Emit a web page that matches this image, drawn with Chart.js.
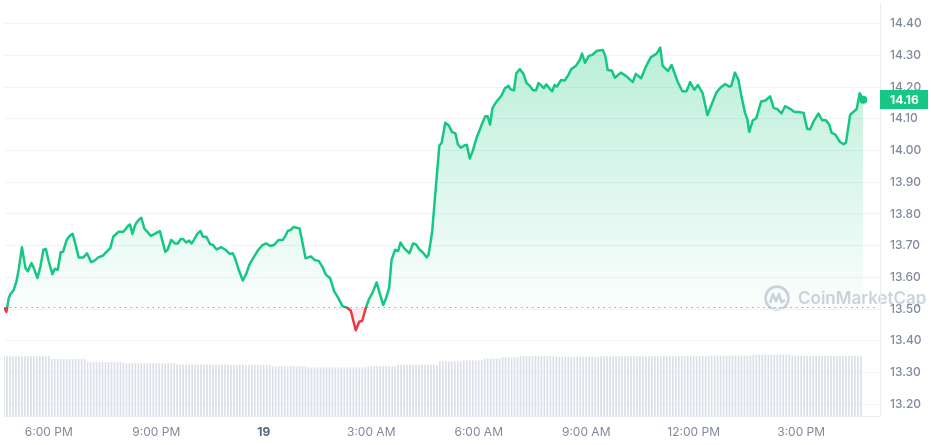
<!DOCTYPE html>
<html>
<head>
<meta charset="utf-8">
<script src="https://cdn.jsdelivr.net/npm/chart.js@4.4.1/dist/chart.umd.min.js"></script>
<style>
  html, body { margin: 0; padding: 0; background: #ffffff; }
  #wrap { width: 931px; height: 445px; }
</style>
</head>
<body>
<div id="wrap"><canvas id="priceChart" width="931" height="445"></canvas></div>
<script>
// minutes since the first point (4:45 PM) and the price at that minute
const minutesFromStart = [
  0, 4, 8, 11, 16, 21, 25, 30, 36, 40, 46, 50, 56, 61, 66, 70, 75, 81, 85, 90,
  95, 99, 105, 110, 115, 120, 125, 133, 139, 146, 151, 158, 166, 172, 178, 183, 192, 200, 208, 211,
  215, 220, 225, 230, 235, 240, 246, 253, 261, 270, 274, 280, 286, 291, 296, 300, 305, 310, 314, 318,
  324, 329, 333, 339, 345, 350, 356, 364, 371, 378, 383, 387, 393, 400, 406, 411, 418, 426, 433, 439,
  446, 452, 460, 467, 472, 475, 481, 485, 495, 499, 505, 514, 520, 527, 533, 539, 546, 553, 558, 567,
  575, 581, 585, 589, 595, 600, 606, 611, 617, 624, 629, 635, 639, 645, 649, 655, 660, 664, 670, 679,
  685, 690, 696, 701, 708, 711, 717, 722, 729, 733, 739, 745, 750, 756, 760, 765, 772, 775, 780, 785,
  791, 796, 800, 806, 810, 814, 818, 825, 833, 839, 845, 848, 854, 858, 864, 870, 875, 880, 886, 891,
  895, 900, 904, 908, 914, 918, 922, 926, 933, 939, 945, 950, 958, 964, 968, 973, 979, 986, 993, 1003,
  1007, 1011, 1018, 1023, 1033, 1042, 1053, 1058, 1067, 1075, 1083, 1093, 1099, 1103, 1112, 1118, 1128, 1136, 1143, 1149,
  1156, 1162, 1170, 1178, 1186, 1193, 1200, 1208, 1214, 1218, 1224, 1230, 1235, 1241, 1245, 1248, 1254, 1260, 1264, 1268,
  1275, 1283, 1289, 1295, 1302, 1308, 1317, 1324, 1331, 1339, 1345, 1350, 1356, 1364, 1370, 1376, 1382, 1386, 1392, 1400,
  1406, 1410, 1417, 1428, 1433, 1439
];

const prices = [
  13.505, 13.491, 13.535, 13.548, 13.559, 13.588, 13.629, 13.695, 13.629, 13.619, 13.645, 13.629, 13.598, 13.634, 13.687, 13.690, 13.650, 13.610, 13.627, 13.624,
  13.679, 13.681, 13.718, 13.731, 13.737, 13.702, 13.663, 13.663, 13.676, 13.648, 13.652, 13.663, 13.669, 13.681, 13.692, 13.728, 13.744, 13.744, 13.763, 13.767,
  13.737, 13.767, 13.780, 13.788, 13.754, 13.744, 13.731, 13.738, 13.746, 13.681, 13.687, 13.718, 13.707, 13.707, 13.721, 13.721, 13.710, 13.716, 13.707, 13.718,
  13.738, 13.746, 13.728, 13.728, 13.705, 13.702, 13.688, 13.695, 13.687, 13.674, 13.676, 13.660, 13.624, 13.590, 13.613, 13.640, 13.663, 13.687, 13.702, 13.707,
  13.699, 13.702, 13.718, 13.718, 13.733, 13.746, 13.751, 13.759, 13.754, 13.718, 13.660, 13.666, 13.655, 13.652, 13.634, 13.608, 13.598, 13.556, 13.541, 13.509,
  13.504, 13.494, 13.463, 13.433, 13.460, 13.463, 13.504, 13.530, 13.551, 13.584, 13.551, 13.513, 13.530, 13.567, 13.655, 13.687, 13.683, 13.710, 13.692, 13.676,
  13.707, 13.704, 13.687, 13.679, 13.663, 13.671, 13.744, 13.858, 14.015, 14.025, 14.088, 14.079, 14.059, 14.054, 14.020, 14.009, 14.017, 14.018, 13.975, 13.999,
  14.038, 14.062, 14.082, 14.108, 14.108, 14.082, 14.134, 14.155, 14.173, 14.197, 14.204, 14.194, 14.190, 14.244, 14.257, 14.242, 14.213, 14.205, 14.190, 14.190,
  14.213, 14.205, 14.197, 14.209, 14.195, 14.187, 14.207, 14.202, 14.223, 14.221, 14.238, 14.257, 14.268, 14.285, 14.306, 14.277, 14.298, 14.303, 14.315, 14.317,
  14.298, 14.254, 14.252, 14.230, 14.246, 14.235, 14.216, 14.242, 14.228, 14.265, 14.294, 14.306, 14.325, 14.267, 14.251, 14.270, 14.218, 14.187, 14.187, 14.216,
  14.192, 14.207, 14.181, 14.112, 14.150, 14.183, 14.199, 14.210, 14.202, 14.204, 14.246, 14.223, 14.171, 14.119, 14.098, 14.059, 14.095, 14.103, 14.129, 14.155,
  14.158, 14.171, 14.134, 14.131, 14.117, 14.140, 14.131, 14.122, 14.122, 14.119, 14.069, 14.067, 14.093, 14.117, 14.096, 14.096, 14.082, 14.056, 14.051, 14.027,
  14.020, 14.025, 14.113, 14.131, 14.181, 14.160
];

// price 24h earlier, drawn as the dotted reference line
const openPrice = 13.505;

// volume bars, one every 5 minutes (millions)
const volumeStepMinutes = 5;
const volumes = [
  101, 101, 101, 101, 101, 101, 101, 101, 101, 101, 101, 101, 101, 101, 101, 101,
  96, 96, 96, 96, 96, 96, 96, 96, 96, 96, 96, 96,
  91, 91, 91, 91, 91, 91, 91, 91, 91, 91, 91, 91,
  89, 89, 89, 89, 89, 89, 89, 89, 89, 89, 89, 89, 89, 89, 89, 89, 89, 89,
  87, 87, 87, 87, 87, 87, 87, 87, 87, 87, 87, 87, 87, 87, 87, 87, 87, 87,
  86, 86, 86, 86, 86, 86, 86, 86, 86, 86, 86, 86, 86, 86,
  84, 84, 84, 84, 84, 84, 84, 84, 84, 84, 84, 84,
  82, 82, 82, 82, 82, 82, 82, 82, 82, 82, 82, 82, 82, 82, 82, 82, 82, 82, 82, 82,
  84, 84, 84, 84, 84, 84, 84, 84, 84, 84,
  86, 86, 86, 86, 86, 86, 86, 86, 86, 86, 86, 86, 86, 86,
  92, 92, 92, 92, 92, 92, 92, 92,
  94, 94, 94, 94, 94, 94, 94,
  97, 97, 97, 97, 97, 97,
  99, 99, 99, 99, 99, 99,
  101, 101, 101, 101, 101, 101, 101, 101, 101, 101, 101, 101,
  100, 100, 100, 100, 100, 100, 100, 100, 100, 100, 100, 100, 100, 100, 100,
  101, 101, 101, 101, 101, 101, 101, 101, 101, 101, 101, 101, 101, 101, 101, 101, 101, 101,
  101, 101, 101, 101, 101, 101, 101, 101, 101, 101, 101, 101, 101, 101, 101, 101, 101, 101,
  102, 102, 102, 102, 102, 102, 102, 102, 102, 102, 102, 102, 102, 102, 102,
  104, 104, 104, 104, 104, 104, 104, 104, 104, 104, 104, 104, 104,
  102, 102, 102, 102, 102, 102, 102, 102, 102, 102, 102, 102, 102, 102, 102, 102, 102, 102, 102, 102, 102, 102, 102, 102
];

const xTickMinutes = [75, 255, 435, 615, 795, 975, 1155, 1335];
const xTickLabels = ['6:00 PM', '9:00 PM', '19', '3:00 AM', '6:00 AM', '9:00 AM', '12:00 PM', '3:00 PM'];
const yTicks = [13.2, 13.3, 13.4, 13.5, 13.6, 13.7, 13.8, 13.9, 14.0, 14.1, 14.2, 14.3, 14.4];

const colors = {
  up: '#16c784',
  down: '#ea3943',
  text: '#808a9d',
  textStrong: '#58667e',
  grid: '#f1f3f7',
  border: '#e8ebf0',
  volume: '#dadfe8',
  dots: '#a1a9b8',
  watermark: 'rgba(196, 203, 216, 0.85)'
};

Chart.defaults.font.family = 'Inter, "Noto Sans", sans-serif';

function lineStroke(chart) {
  const { ctx, chartArea, scales } = chart;
  if (!chartArea || !scales.y) return colors.up;
  const yBase = scales.y.getPixelForValue(openPrice);
  const f = Math.min(1, Math.max(0, (yBase - chartArea.top) / (chartArea.bottom - chartArea.top)));
  const g = ctx.createLinearGradient(0, chartArea.top, 0, chartArea.bottom);
  g.addColorStop(0, colors.up);
  g.addColorStop(f, colors.up);
  g.addColorStop(f, colors.down);
  g.addColorStop(1, colors.down);
  return g;
}

function areaFill(chart) {
  const { ctx, chartArea, scales } = chart;
  if (!chartArea || !scales.y) return 'rgba(22, 199, 132, 0.15)';
  const yBase = scales.y.getPixelForValue(openPrice);
  const yTop = scales.y.getPixelForValue(14.35);
  const g = ctx.createLinearGradient(0, yTop, 0, yBase);
  g.addColorStop(0, 'rgba(22, 199, 132, 0.30)');
  g.addColorStop(1, 'rgba(22, 199, 132, 0.02)');
  return g;
}

const overlayPlugin = {
  id: 'overlay',
  beforeDraw(chart) {
    // CoinMarketCap watermark
    const { ctx, chartArea } = chart;
    const cx = chartArea.right - 103;
    const cy = chartArea.top + (chartArea.bottom - chartArea.top) * 0.714;
    ctx.save();
    ctx.strokeStyle = colors.watermark;
    ctx.lineWidth = 2.6;
    ctx.lineJoin = 'round';
    ctx.beginPath();
    ctx.arc(cx, cy, 11.5, 0, Math.PI * 2);
    ctx.stroke();
    ctx.beginPath();
    ctx.moveTo(cx - 7, cy + 5);
    ctx.lineTo(cx - 4, cy - 4);
    ctx.lineTo(cx - 1, cy + 3);
    ctx.lineTo(cx + 2, cy - 4);
    ctx.lineTo(cx + 4.5, cy + 4);
    ctx.lineTo(cx + 8, cy + 2);
    ctx.stroke();
    ctx.fillStyle = colors.watermark;
    ctx.font = '600 17px Inter';
    ctx.textBaseline = 'middle';
    ctx.textAlign = 'left';
    ctx.fillText('CoinMarketCap', cx + 21, cy + 1);
    ctx.restore();
  },
  beforeDatasetsDraw(chart) {
    const { ctx, chartArea, scales } = chart;
    const y = Math.round(scales.y.getPixelForValue(openPrice)) + 0.5;
    ctx.save();
    ctx.strokeStyle = colors.dots;
    ctx.lineWidth = 1;
    ctx.setLineDash([1.5, 4]);
    ctx.beginPath();
    ctx.moveTo(chartArea.left, y);
    ctx.lineTo(chartArea.right - 3, y);
    ctx.stroke();
    ctx.restore();
  },
  afterDraw(chart) {
    // last price tag on the right axis
    const { ctx, chartArea, scales } = chart;
    const last = prices[prices.length - 1];
    const y = scales.y.getPixelForValue(last);
    ctx.save();
    ctx.fillStyle = colors.up;
    ctx.fillRect(chartArea.right, Math.round(y - 9.5), 48, 19);
    ctx.fillStyle = '#ffffff';
    ctx.font = '700 12px Inter';
    ctx.textBaseline = 'middle';
    ctx.textAlign = 'left';
    ctx.fillText(last.toFixed(2), chartArea.right + 10, y + 0.5);
    ctx.restore();
  }
};

new Chart(document.getElementById('priceChart'), {
  type: 'line',
  data: {
    datasets: [
      {
        type: 'line',
        label: 'Price',
        data: prices.map((p, i) => ({ x: minutesFromStart[i], y: p })),
        yAxisID: 'y',
        order: 0,
        borderColor: (ctx) => lineStroke(ctx.chart),
        backgroundColor: (ctx) => areaFill(ctx.chart),
        borderWidth: 2.5,
        borderJoinStyle: 'round',
        tension: 0,
        fill: { target: { value: openPrice }, below: 'rgba(234, 57, 67, 0.08)' },
        pointRadius: (ctx) => (ctx.dataIndex === prices.length - 1 ? 4 : 0),
        pointHoverRadius: 0,
        pointBackgroundColor: colors.up,
        pointBorderColor: colors.up,
        pointBorderWidth: 0
      },
      {
        type: 'bar',
        label: 'Volume',
        data: volumes.map((v, j) => ({ x: j * volumeStepMinutes, y: v })),
        yAxisID: 'yVol',
        order: 1,
        backgroundColor: colors.volume,
        barThickness: 1
      }
    ]
  },
  options: {
    responsive: false,
    animation: false,
    events: [],
    layout: { padding: 0 },
    plugins: {
      legend: { display: false },
      tooltip: { enabled: false }
    },
    scales: {
      x: {
        type: 'linear',
        min: 0,
        max: 1467,
        offset: false,
        afterBuildTicks: (s) => { s.ticks = xTickMinutes.map((v) => ({ value: v })); },
        afterFit: (s) => { s.height = 29; s.paddingLeft = 0; s.paddingRight = 0; },
        grid: { display: false, drawTicks: false, offset: false },
        border: { display: true, color: colors.border },
        ticks: {
          padding: 9,
          autoSkip: false,
          maxRotation: 0,
          color: (ctx) => (xTickLabels[ctx.index] === '19' ? colors.textStrong : colors.text),
          font: (ctx) => ({ size: 12, weight: xTickLabels[ctx.index] === '19' ? 700 : 400 }),
          callback: (v, i) => xTickLabels[i]
        }
      },
      y: {
        position: 'right',
        min: 13.1625,
        max: 14.4625,
        afterBuildTicks: (s) => { s.ticks = yTicks.map((v) => ({ value: v })); },
        afterFit: (s) => { s.width = 51; s.paddingTop = 0; s.paddingBottom = 0; },
        grid: { color: colors.grid, drawTicks: false },
        border: { display: true, color: colors.border },
        ticks: {
          padding: 10,
          color: colors.text,
          font: { size: 12, weight: 500 },
          callback: (v) => Number(v).toFixed(2)
        }
      },
      yVol: {
        display: false,
        min: 0,
        max: 700
      }
    }
  },
  plugins: [overlayPlugin]
});
</script>
</body>
</html>
